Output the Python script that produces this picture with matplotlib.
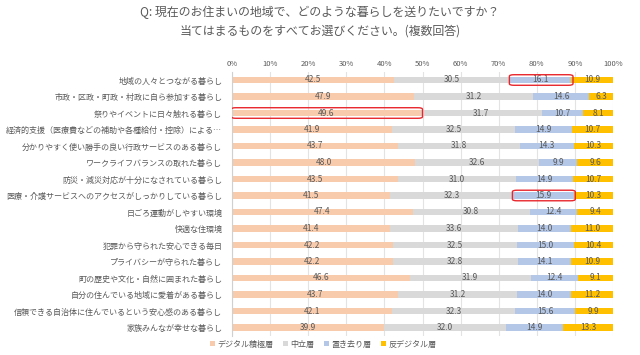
import matplotlib
matplotlib.use("Agg")
import matplotlib.pyplot as plt
from matplotlib.patches import FancyBboxPatch
import numpy as np

plt.rcParams['font.family'] = ['Noto Sans CJK JP', 'DejaVu Sans']

# データ
items = [
    '地域の人々とつながる暮らし',
    '市政・区政・町政・村政に自ら参加する暮らし',
    '祭りやイベントに日々触れる暮らし',
    '経済的支援（医療費などの補助や各種給付・控除）による…',
    '分かりやすく使い勝手の良い行政サービスのある暮らし',
    'ワークライフバランスの取れた暮らし',
    '防災・減災対応が十分になされている暮らし',
    '医療・介護サービスへのアクセスがしっかりしている暮らし',
    '日ごろ運動がしやすい環境',
    '快適な住環境',
    '犯罪から守られた安心できる毎日',
    'プライバシーが守られた暮らし',
    '町の歴史や文化・自然に囲まれた暮らし',
    '自分の住んでいる地域に愛着がある暮らし',
    '信頼できる自治体に住んでいるという安心感のある暮らし',
    '家族みんなが幸せな暮らし',
]
series_names = ['デジタル積極層', '中立層', '置き去り層', '反デジタル層']
digital = [42.5, 47.9, 49.6, 41.9, 43.7, 48.0, 43.5, 41.5, 47.4, 41.4, 42.2, 42.2, 46.6, 43.7, 42.1, 39.9]
neutral = [30.5, 31.2, 31.7, 32.5, 31.8, 32.6, 31.0, 32.3, 30.8, 33.6, 32.5, 32.8, 31.9, 31.2, 32.3, 32.0]
left_behind = [16.1, 14.6, 10.7, 14.9, 14.3, 9.9, 14.9, 15.9, 12.4, 14.0, 15.0, 14.1, 12.4, 14.0, 15.6, 14.9]
anti = [10.9, 6.3, 8.1, 10.7, 10.3, 9.6, 10.7, 10.3, 9.4, 11.0, 10.4, 10.9, 9.1, 11.2, 9.9, 13.3]
colors = ['#F8CBAD', '#D9D9D9', '#B4C7E7', '#FFC000']
# 赤枠で強調する (行, 系列)
highlights = [(0, 2), (2, 0), (7, 2)]

txt = '#595959'

fig = plt.figure(figsize=(6.4, 3.55), dpi=100)
n = len(items)
row_px = 16.5
top_px = 80 - row_px / 2
bottom_px = top_px + n * row_px
ax = fig.add_axes([232 / 640, 1 - bottom_px / 355, (613 - 232) / 640, (bottom_px - top_px) / 355])

y = np.arange(n)
data = [digital, neutral, left_behind, anti]
left = np.zeros(n)
bh = 0.4
for vals, c, name in zip(data, colors, series_names):
    vals = np.array(vals)
    ax.barh(y, vals, left=left, height=bh, color=c, label=name, zorder=2)
    for i in range(n):
        ax.text(left[i] + vals[i] / 2, y[i], f'{vals[i]:.1f}', ha='center', va='center',
                fontsize=6, color=txt, zorder=3)
    left = left + vals

# 赤枠
for r, s in highlights:
    x0 = sum(data[k][r] for k in range(s))
    w = data[s][r]
    box = FancyBboxPatch((x0 - 0.2, r - 0.32), w + 0.6, 0.64,
                         boxstyle='round,pad=0,rounding_size=1.2', fill=False,
                         edgecolor='#E8262C', linewidth=1.0, zorder=4,
                         mutation_aspect=0.08)
    ax.add_patch(box)

ax.set_xlim(0, 100)
ax.set_ylim(n - 0.5, -0.5)
ax.set_xticks(np.arange(0, 101, 10))
ax.set_xticklabels([f'{v}%' for v in range(0, 101, 10)], fontsize=5.5, color=txt)
ax.xaxis.tick_top()
ax.set_yticks(y)
ax.set_yticklabels(items, fontsize=5.8, color=txt)
ax.tick_params(length=0, pad=7)
ax.tick_params(axis='x', pad=3)
ax.grid(axis='x', color='#E3E3E3', linewidth=0.8, zorder=0)
for s in ['top', 'right', 'bottom']:
    ax.spines[s].set_visible(False)
ax.spines['left'].set_color('#D0D0D0')

fig.text(0.5, 1 - 12 / 355, 'Q: 現在のお住まいの地域で、どのような暮らしを送りたいですか？',
         ha='center', va='center', fontsize=8.6, color=txt)
fig.text(0.5, 1 - 31 / 355, '当てはまるものをすべてお選びください。(複数回答)',
         ha='center', va='center', fontsize=8.6, color=txt)

fig.legend(loc='center', bbox_to_anchor=(0.505, 1 - 344 / 355), ncol=4, frameon=False,
           fontsize=5.8, labelcolor=txt, handlelength=0.6, handleheight=0.6,
           handletextpad=0.3, columnspacing=1.2)

fig.savefig('out.png', dpi=100)
